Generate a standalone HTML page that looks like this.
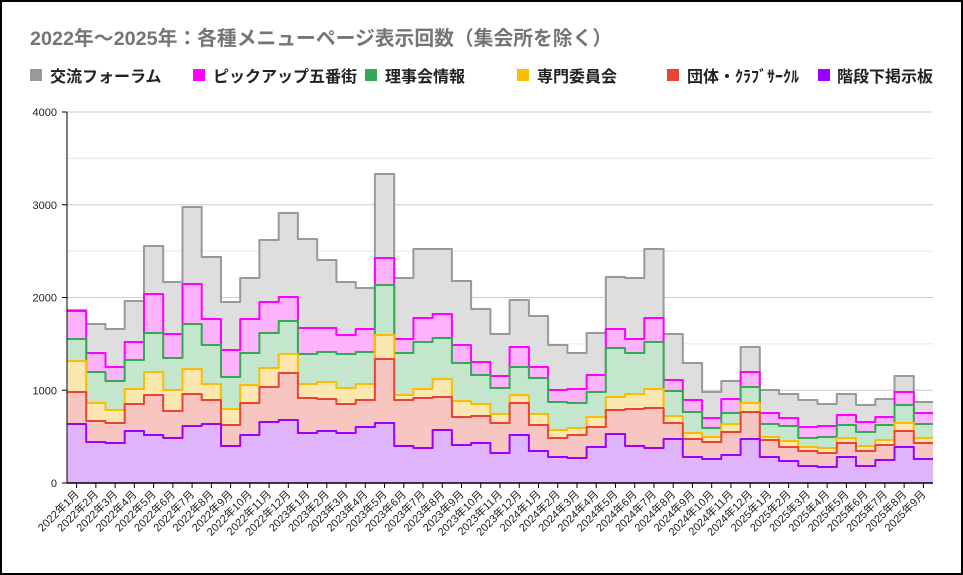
<!DOCTYPE html>
<html><head><meta charset="utf-8"><style>
html,body{margin:0;padding:0;background:#fff}
#c{width:963px;height:575px;position:relative;box-sizing:border-box;border:2px solid #000;overflow:hidden;font-family:"Liberation Sans","Noto Sans CJK JP",sans-serif}
</style></head><body><div id="c">
<svg id="s" width="963" height="575" style="position:absolute;left:-2px;top:-2px" xmlns="http://www.w3.org/2000/svg">
<text x="30" y="45" font-size="19.8" font-weight="bold" fill="#757575" font-family="Liberation Sans, Noto Sans CJK JP, sans-serif">2022年～2025年：各種メニューページ表示回数（集会所を除く）</text>
<g font-size="16" font-weight="bold" fill="#222" font-family="Liberation Sans, Noto Sans CJK JP, sans-serif">
<rect x="30" y="69" width="12" height="12" fill="#999"/><text x="50" y="82">交流フォーラム</text>
<rect x="193" y="69" width="12" height="12" fill="#ff00ff"/><text x="213" y="82">ピックアップ五番街</text>
<rect x="365" y="69" width="12" height="12" fill="#34a853"/><text x="385" y="82">理事会情報</text>
<rect x="517" y="69" width="12" height="12" fill="#fbbc04"/><text x="537" y="82">専門委員会</text>
<rect x="667" y="69" width="12" height="12" fill="#ea4335"/><text x="687" y="82">団体・ｸﾗﾌﾞｻｰｸﾙ</text>
<rect x="818" y="69" width="12" height="12" fill="#9900ff"/><text x="837" y="82">階段下掲示板</text>
</g>
<g id="grid"></g><g id="areas"></g><g id="axes"></g>
</svg>
<script>
var NS="http://www.w3.org/2000/svg",s=document.getElementById('s');
function el(p,t,a,txt){var e=document.createElementNS(NS,t);for(var k in a)e.setAttribute(k,a[k]);if(txt!=null)e.textContent=txt;p.appendChild(e);return e;}
var G=document.getElementById('grid'),A=document.getElementById('areas'),X=document.getElementById('axes');
var x0=67,x1=933,y0=483,N=45,w=(x1-x0)/N;
[0,1000,2000,3000,4000].forEach(function(v){var y=y0-v*0.09275;el(G,'line',{x1:x0,x2:x1,y1:y,y2:y,stroke:'#ccc','stroke-width':1});
el(G,'text',{x:57,y:y+4,'text-anchor':'end','font-size':11,fill:'#222','font-family':'Liberation Sans, sans-serif'},String(v));});
[500,1500,2500,3500].forEach(function(v){var y=y0-v*0.09275;el(G,'line',{x1:x0,x2:x1,y1:y,y2:y,stroke:'#e8e8e8','stroke-width':1});});
var D=[[310,311,339,361,392,424],[324,353,372,403,421,442],[329,367,381,410,423,443],[301,342,360,389,404,431],[246,294,333,372,395,435],[282,334,358,390,411,438],[207,284,324,369,394,426],[257,319,345,384,400,424],[302,350,377,409,425,446],[278,319,353,385,403,435],[240,302,333,368,387,422],[213,297,321,354,373,420],[239,328,354,384,398,433],[260,328,352,382,399,431],[282,335,354,388,404,433],[288,329,352,384,400,427],[174,258,285,335,359,423],[278,339,353,395,400,446],[249,318,342,389,398,448],[249,314,338,379,397,430],[281,345,363,401,417,445],[309,362,375,404,416,443],[334,376,388,414,423,453],[300,347,367,395,403,435],[316,367,378,414,425,451],[345,390,402,430,438,457],[353,389,403,428,435,458],[333,375,392,417,427,447],[277,329,348,397,410,434],[278,339,353,394,409,446],[249,318,342,389,408,448],[334,380,391,416,423,439],[363,400,412,433,439,457],[392,418,428,437,442,459],[381,399,413,424,432,455],[347,372,387,403,412,439],[390,413,424,437,440,457],[394,418,426,441,447,461],[400,427,438,447,451,466],[404,426,437,448,453,467],[394,415,425,438,443,457],[405,422,432,446,451,466],[399,417,425,440,445,460],[376,392,405,423,431,447],[402,413,424,438,443,459]];
var fills=['#dedede','#fcb3fc','#c4e6cc','#fde7b0','#f8c6c0','#dfb4fc'],lines=['#999','#ff00ff','#34a853','#fbbc04','#ea4335','#9900ff'];
for(var k=0;k<6;k++){var pts=[];for(var i=0;i<N;i++){var xa=x0+i*w,xb=x0+(i+1)*w;pts.push(xa.toFixed(1)+','+D[i][k],xb.toFixed(1)+','+D[i][k]);}
el(A,'polygon',{points:x0+','+y0+' '+pts.join(' ')+' '+x1+','+y0,fill:fills[k]});
el(A,'polyline',{points:pts.join(' '),fill:'none',stroke:lines[k],'stroke-width':2,'stroke-linejoin':'round'});}
el(X,'line',{x1:x0,x2:x0,y1:112,y2:y0,stroke:'#000','stroke-width':1});
el(X,'line',{x1:x0,x2:x1,y1:y0,y2:y0,stroke:'#000','stroke-width':1.5});
[0,1000,2000,3000,4000].forEach(function(v){var y=y0-v*0.09275;el(X,'line',{x1:62,x2:67,y1:y,y2:y,stroke:'#000'});});
for(var i=0;i<N;i++){var cx=x0+(i+0.5)*w,yr=2022+Math.floor(i/12),m=i%12+1;
el(X,'line',{x1:cx,x2:cx,y1:y0,y2:y0+5,stroke:'#000'});
el(X,'text',{x:cx+3,y:y0+12,'text-anchor':'end','font-size':11,fill:'#222','font-family':'Liberation Sans, Noto Sans CJK JP, sans-serif',transform:'rotate(-45 '+(cx+3)+' '+(y0+12)+')'},yr+'年'+m+'月');}
</script>
</div></body></html>
